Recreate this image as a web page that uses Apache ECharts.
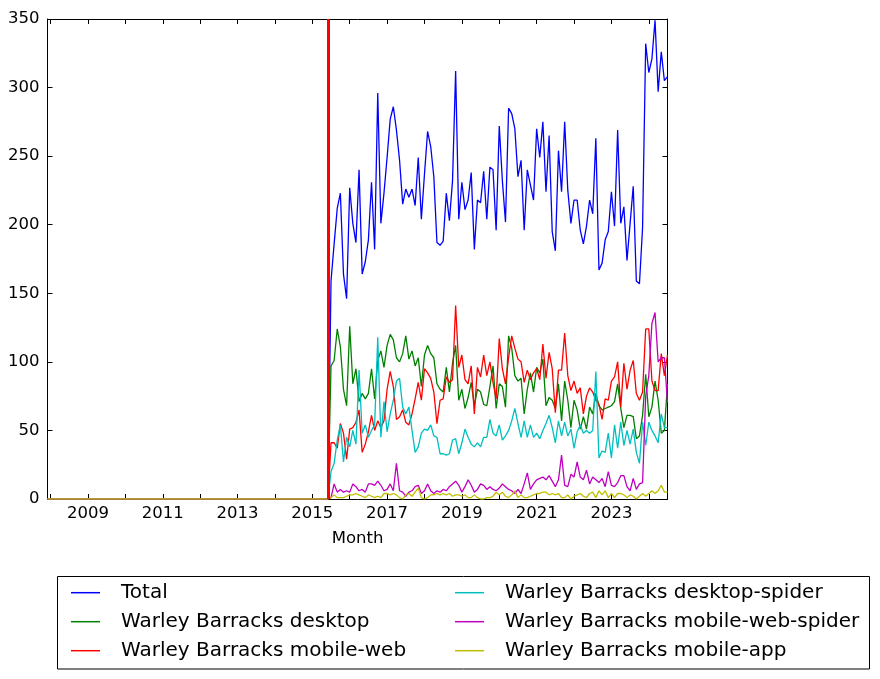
<!DOCTYPE html>
<html><head><meta charset="utf-8">
<script src="https://cdn.jsdelivr.net/npm/echarts@6/dist/echarts.min.js"></script>
<style>html,body{margin:0;padding:0;background:#fff}#c{width:880px;height:679px}</style>
</head><body><div id="c"></div>
<script>
// months Dec 2007 .. Jul 2024
const startYear = 2007, startMonth = 12, monthCount = 200;
const yTicks = [0, 50, 100, 150, 200, 250, 300, 350];
const seriesNames = ['Total','Warley Barracks desktop','Warley Barracks mobile-web','Warley Barracks desktop-spider','Warley Barracks mobile-web-spider','Warley Barracks mobile-app'];
// Dec 2007 .. Jun 2015: no traffic
const zerosBeforeJul2015 = [0,0,0,0,0,0,0,0,0,0,0,0,0,0,0,0,0,0,0,0,0,0,0,0,0,0,0,0,0,0,0,0,0,0,0,0,0,0,0,0,0,0,0,0,0,0,0,0,0,0,0,0,0,0,0,0,0,0,0,0,0,0,0,0,0,0,0,0,0,0,0,0,0,0,0,0,0,0,0,0,0,0,0,0,0,0,0,0,0,0,0];
// Jul 2015 .. Jul 2024
const total = [159,186,212,223,164,146,227,201,187,240,164,173,189,231,182,296,201,223,249,277,286,269,247,215,226,220,226,214,249,204,237,268,257,235,187,
185,188,223,203,232,312,204,231,211,218,238,182,218,216,239,204,242,240,196,272,232,202,285,281,270,235,247,196,240,229,218,270,249,275,224,265,195,181,
254,224,275,225,201,218,218,196,186,199,218,208,263,167,172,189,195,224,199,269,201,213,174,201,228,159,157,198,332,311,321,349,297,326,305,308];
const desktop = [97,101,124,111,80,68,126,84,95,71,77,73,77,95,73,101,108,96,112,120,116,103,100,106,119,102,108,97,103,82,105,112,106,103,84,
80,78,96,78,99,112,72,80,66,74,85,68,80,78,69,68,82,97,66,84,82,67,119,110,90,86,88,62,80,92,78,96,92,102,68,74,72,66,
84,57,86,72,52,72,65,51,60,51,67,62,77,68,65,66,67,68,71,84,66,52,61,61,60,44,46,61,91,60,67,86,72,48,50,84];
const mobileWeb = [41,41,37,55,48,29,51,52,56,65,34,40,49,61,50,57,52,57,80,93,82,58,60,65,56,54,62,73,85,72,95,92,88,78,55,
72,73,89,85,87,141,96,105,87,84,97,62,96,89,105,90,100,85,73,117,95,84,103,119,110,102,100,85,94,87,92,95,87,113,88,107,95,63,
94,94,121,90,79,86,77,81,62,75,81,78,72,69,58,73,72,86,89,100,67,99,80,94,101,77,72,78,124,124,86,79,79,106,90,105];
const desktopSpider = [20,26,43,54,27,45,38,50,40,94,48,54,45,50,54,118,45,71,49,62,72,86,88,67,62,67,50,34,38,48,51,50,54,46,45,
33,33,32,33,43,44,33,41,51,45,40,38,41,38,45,45,58,48,46,54,43,46,50,57,66,55,45,57,45,54,45,48,44,50,55,61,52,41,
57,46,56,46,51,37,49,54,48,50,48,50,93,30,35,34,48,30,54,37,56,39,50,40,51,34,26,56,39,56,50,46,41,62,52,52];
const mobileWebSpider = [1,11,5,7,5,6,5,11,9,6,7,5,11,11,10,13,10,6,7,11,6,26,6,5,2,5,6,9,10,4,6,11,6,4,6,
5,7,6,9,11,13,10,5,9,14,10,5,7,11,10,7,9,7,6,8,11,9,7,6,4,7,4,11,19,7,11,14,15,16,14,17,13,9,
14,32,10,9,18,16,27,16,14,21,11,16,14,12,15,9,20,10,9,12,17,17,9,6,15,7,11,12,75,90,128,136,100,103,103,70];
const mobileApp = [1,3,1,1,1,2,3,3,4,3,2,1,3,2,1,2,1,4,4,3,4,3,1,0,3,4,2,5,8,1,0,1,3,3,4,
3,4,3,4,2,3,3,2,3,1,1,3,1,0,0,1,1,2,5,3,5,2,1,3,6,1,3,1,1,2,3,4,4,5,5,3,4,3,
4,1,1,3,0,2,3,4,2,1,4,5,1,6,3,6,1,4,1,4,4,3,1,3,2,0,2,4,2,4,6,4,6,10,5,5];
const markerMonth = '2015-06';

const months = [];
for (let k = 0; k < monthCount; k++) {
  const m = startMonth - 1 + k;
  months.push((startYear + Math.floor(m / 12)) + '-' + String(m % 12 + 1).padStart(2, '0'));
}
const colors = ['#0000ff', '#008000', '#ff0000', '#00bfbf', '#bf00bf', '#bfbf00'];
const values = [total, desktop, mobileWeb, desktopSpider, mobileWebSpider, mobileApp];
const FONT = 'DejaVu Sans';
const isJan = (i, v) => v.slice(5) === '01';
const isOddJan = (i, v) => v.slice(5) === '01' && (+v.slice(0, 4)) % 2 === 1;

const xBase = {
  type: 'category', data: months, boundaryGap: false,
  axisLine: { onZero: false, lineStyle: { color: '#000', width: 1 } },
  axisTick: { inside: true, length: 5, interval: isJan, lineStyle: { color: '#000' } },
  splitLine: { show: false }
};
const yBase = {
  type: 'value', min: 0, max: 350, interval: 50,
  axisLine: { show: true, onZero: false, lineStyle: { color: '#000', width: 1 } },
  axisTick: { show: true, inside: true, length: 5, lineStyle: { color: '#000' } },
  splitLine: { show: false }
};

const series = seriesNames.map((name, k) => ({
  name, type: 'line', xAxisIndex: 0, yAxisIndex: 0,
  data: zerosBeforeJul2015.concat(values[k]),
  symbol: 'none', showSymbol: false,
  lineStyle: { color: colors[k], width: 1.3 },
  itemStyle: { color: colors[k] },
  emphasis: { disabled: true }, animation: false
}));
series[5].markLine = {
  silent: true, symbol: ['none', 'none'], animation: false,
  label: { show: false },
  lineStyle: { color: '#ff0000', width: 3, type: 'solid' },
  data: [{ xAxis: markerMonth }]
};

const legendBase = {
  orient: 'vertical', top: 582.7, itemWidth: 29, itemHeight: 1.5, itemGap: 9, padding: 0,
  icon: 'rect',
  textStyle: { fontFamily: FONT, fontSize: 20, lineHeight: 20, color: '#000', padding: [0, 0, 0, 16] },
  selectedMode: false
};

const chart = echarts.init(document.getElementById('c'), null, { renderer: 'canvas' });
chart.setOption({
  animation: false,
  backgroundColor: '#fff',
  textStyle: { fontFamily: FONT },
  grid: { left: 47.5, top: 19, width: 620, height: 480, containLabel: false },
  xAxis: [
    Object.assign({}, xBase, {
      position: 'bottom',
      axisLabel: { interval: isOddJan, formatter: v => v.slice(0, 4), fontFamily: FONT, fontSize: 16.5, color: '#000', margin: 6 },
      name: 'Month', nameLocation: 'middle', nameGap: 31,
      nameTextStyle: { fontFamily: FONT, fontSize: 16.5, color: '#000' }
    }),
    Object.assign({}, xBase, { position: 'top', axisLabel: { show: false } })
  ],
  yAxis: [
    Object.assign({}, yBase, { position: 'left', axisLabel: { fontFamily: FONT, fontSize: 16.5, color: '#000', margin: 8 } }),
    Object.assign({}, yBase, { position: 'right', axisLabel: { show: false } })
  ],
  legend: [
    Object.assign({}, legendBase, { left: 71, data: seriesNames.slice(0, 3) }),
    Object.assign({}, legendBase, { left: 455, data: seriesNames.slice(3) })
  ],
  graphic: [{
    type: 'rect', z: -1, silent: true,
    shape: { x: 57.5, y: 576.5, width: 812, height: 92.5 },
    style: { fill: '#fff', stroke: '#000', lineWidth: 1 }
  }],
  series
});
</script>
</body></html>
